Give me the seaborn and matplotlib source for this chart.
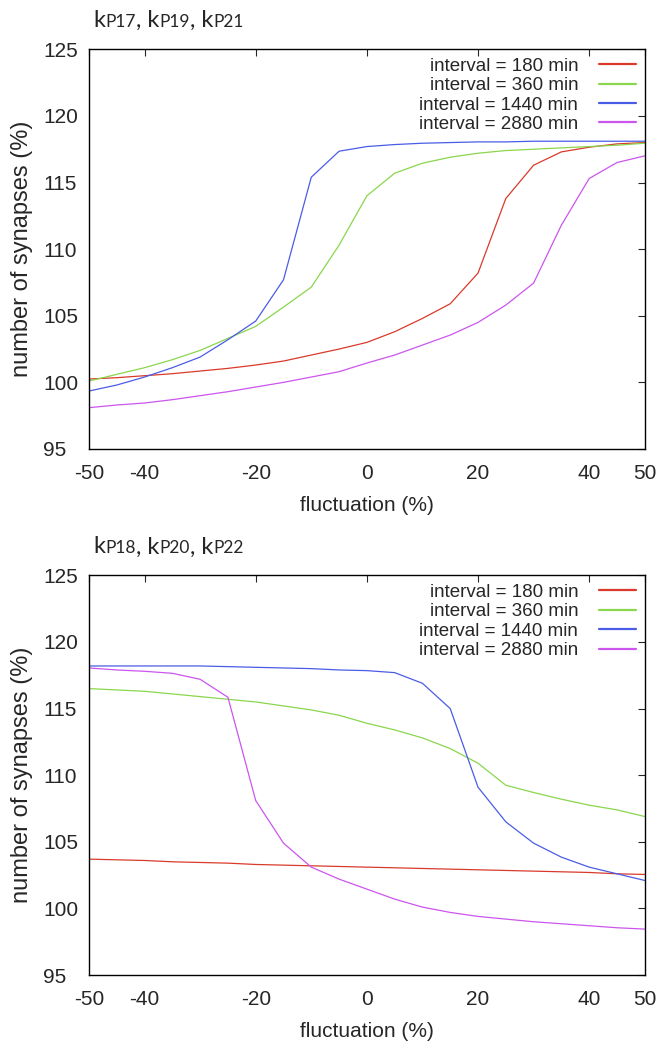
import numpy as np
import pandas as pd
import seaborn as sns
import matplotlib.pyplot as plt
from matplotlib.offsetbox import TextArea, HPacker, AnchoredOffsetbox

fluct = [-50, -45, -40, -35, -30, -25, -20, -15, -10, -5, 0,
         5, 10, 15, 20, 25, 30, 35, 40, 45, 50]
labels = ['interval = 180 min', 'interval = 360 min',
          'interval = 1440 min', 'interval = 2880 min']

# k_P17, k_P19, k_P21
top_180 = [100.25, 100.35, 100.5, 100.65, 100.85, 101.05, 101.3, 101.6, 102.05, 102.5, 103.0,
           103.8, 104.8, 105.9, 108.2, 113.8, 116.3, 117.3, 117.65, 117.9, 118.0]
top_360 = [100.1, 100.6, 101.1, 101.7, 102.4, 103.3, 104.2, 105.65, 107.15, 110.3, 114.0,
           115.7, 116.45, 116.9, 117.2, 117.4, 117.5, 117.6, 117.7, 117.8, 117.95]
top_1440 = [99.35, 99.8, 100.4, 101.1, 101.9, 103.2, 104.6, 107.7, 115.4, 117.35, 117.7,
            117.85, 117.95, 118.0, 118.05, 118.05, 118.1, 118.1, 118.1, 118.1, 118.1]
top_2880 = [98.1, 98.3, 98.45, 98.7, 99.0, 99.3, 99.65, 100.0, 100.4, 100.8, 101.45,
            102.05, 102.8, 103.55, 104.5, 105.8, 107.45, 111.8, 115.3, 116.5, 117.0]

# k_P18, k_P20, k_P22
bot_180 = [103.7, 103.65, 103.6, 103.5, 103.45, 103.4, 103.3, 103.25, 103.2, 103.15, 103.1,
           103.05, 103.0, 102.95, 102.9, 102.85, 102.8, 102.75, 102.7, 102.6, 102.55]
bot_360 = [116.5, 116.4, 116.3, 116.1, 115.9, 115.7, 115.5, 115.2, 114.9, 114.5, 113.9,
           113.4, 112.8, 112.0, 110.9, 109.25, 108.7, 108.2, 107.75, 107.4, 106.9]
bot_1440 = [118.2, 118.2, 118.2, 118.2, 118.2, 118.15, 118.1, 118.05, 118.0, 117.9, 117.85,
            117.7, 116.9, 115.0, 109.1, 106.5, 104.9, 103.85, 103.1, 102.6, 102.1]
bot_2880 = [118.05, 117.9, 117.8, 117.65, 117.2, 115.85, 108.1, 104.9, 103.1, 102.2, 101.45,
            100.7, 100.1, 99.7, 99.4, 99.2, 99.0, 98.85, 98.7, 98.55, 98.45]

top_title = ['P17', 'P19', 'P21']
bot_title = ['P18', 'P20', 'P22']

colors = ['#d93a2b', '#8ad64c', '#4a5ce6', '#cc55ee']
xticks = [-50, -40, -20, 0, 20, 40, 50]
yticks = [95, 100, 105, 110, 115, 120, 125]


def make_df(series):
    rows = []
    for lab, vals in zip(labels, series):
        for x, y in zip(fluct, vals):
            rows.append({'fluctuation': x, 'synapses': y, 'interval': lab})
    return pd.DataFrame(rows)


def add_title(ax, subs):
    # "k" in full size, the index in smaller letters on the same baseline
    parts = []
    for i, s in enumerate(subs):
        big = 'k' if i == 0 else ', k'
        parts.append(TextArea(big, textprops=dict(size=17, family='Lato')))
        parts.append(TextArea(s, textprops=dict(size=12.5, family='Lato')))
    box = HPacker(children=parts, align='baseline', pad=0, sep=0)
    anch = AnchoredOffsetbox(loc='lower left', child=box, pad=0, borderpad=0,
                             frameon=False, bbox_to_anchor=(0.008, 1.045),
                             bbox_transform=ax.transAxes)
    ax.add_artist(anch)


sns.set_style('white')
plt.rcParams['font.family'] = ['Liberation Sans', 'DejaVu Sans']
plt.rcParams['axes.unicode_minus'] = False

fig = plt.figure(figsize=(6.64, 10.49), dpi=100)
ax1 = fig.add_axes([0.134, 0.572, 0.837, 0.381])
ax2 = fig.add_axes([0.134, 0.0705, 0.837, 0.381])

panels = [
    (ax1, [top_180, top_360, top_1440, top_2880], top_title),
    (ax2, [bot_180, bot_360, bot_1440, bot_2880], bot_title),
]

for ax, series, subs in panels:
    df = make_df(series)
    sns.lineplot(data=df, x='fluctuation', y='synapses', hue='interval',
                 palette=colors, linewidth=0.9, ax=ax)
    ax.set_xlim(-50, 50)
    ax.set_ylim(95, 125)
    ax.set_xticks(xticks)
    ax.set_yticks(yticks)
    ax.tick_params(direction='in', length=5, width=0.8, labelsize=15,
                   top=True, right=True)
    ax.tick_params(axis='x', pad=11)
    # y tick labels are left aligned in the original
    ax.tick_params(axis='y', pad=33)
    for lab in ax.get_yticklabels():
        lab.set_ha('left')
    for s in ax.spines.values():
        s.set_color('black')
        s.set_linewidth(1.0)
    ax.set_xlabel('fluctuation (%)', fontsize=15, labelpad=9)
    ax.set_ylabel('number of synapses (%)', fontsize=17, labelpad=7)
    add_title(ax, subs)
    handles, labs = ax.get_legend_handles_labels()
    leg = ax.legend(handles, labs, loc='upper right', frameon=False,
                    markerfirst=False, fontsize=13.5, handlelength=2.0,
                    handletextpad=1.1, labelspacing=0.12,
                    borderpad=0, borderaxespad=0.45)
    for h in leg.get_lines():
        h.set_linewidth(1.6)

fig.savefig('out.png', dpi=100)
